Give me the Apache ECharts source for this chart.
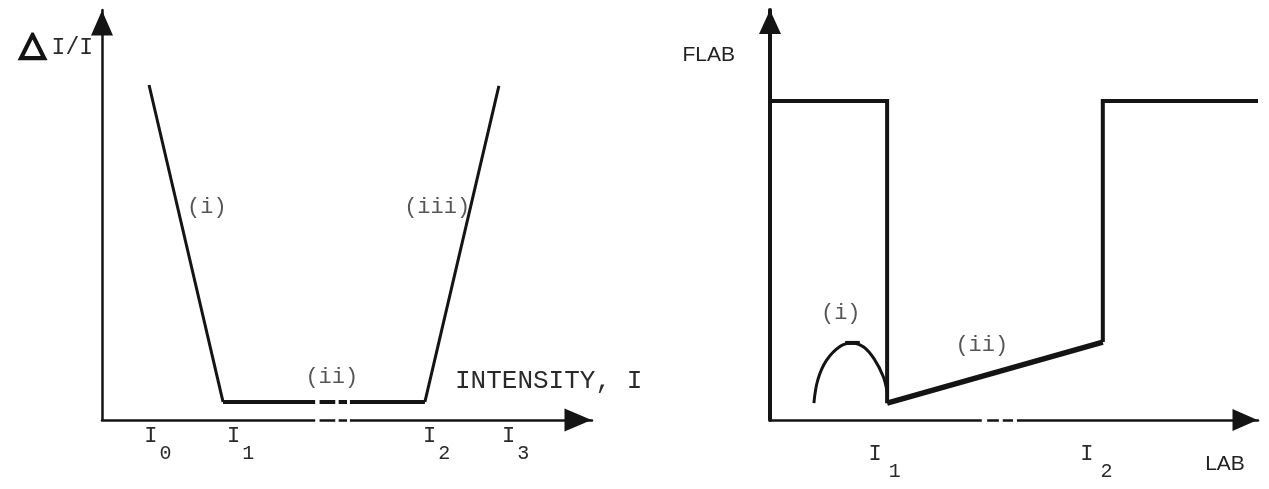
<!DOCTYPE html>
<html>
<head>
<meta charset="utf-8">
<style>
html, body { margin: 0; padding: 0; background: #fff; }
#chart { width: 1269px; height: 489px; }
</style>
<script src="https://cdn.jsdelivr.net/npm/echarts@6/dist/echarts.min.js"></script>
</head>
<body>
<div id="chart"></div>
<script>
// left panel: ΔI/I against intensity (both axes 0..100, arbitrary units)
const leftTicks = [11.4, 28.3, 68.3, 84.4];
const leftTickLabels = ['0', '1', '2', '3'];
const leftCurveI = [[9.6, 81.7], [24.7, 4.4]];
const leftCurveII = [[24.7, 4.4], [65.9, 4.4]];
const leftCurveIII = [[65.9, 4.4], [81.0, 81.5]];
const leftBreaks = [[43.5, 44.4], [47.6, 48.3], [50.0, 50.6]];
const leftNotes = [['(i)', 21.4, 52], ['(ii)', 46.9, 10.5], ['(iii)', 68.4, 52]];

// right panel: FLAB against LAB
const rightTicks = [23.5, 66.9];
const rightTickLabels = ['1', '2'];
const rightWave = [[0, 77.8], [24.0, 77.8], [24.0, 4.1]];
const rightSlope = [[24.0, 4.1], [68.2, 19.0]];
const rightStep = [[68.2, 19.0], [68.2, 77.8], [100, 77.8]];
const rightArc = [[9.0, 4.1], [9.8, 9.8], [11.6, 14.6], [14.4, 18.0], [16.8, 18.8], [19.2, 17.8], [21.4, 14.8], [23.2, 10.6], [24.0, 6.8]];
const rightArcCap = [[15.4, 18.8], [18.4, 18.8]];
const rightBreaks = [[43.4, 44.5], [46.9, 47.7], [49.8, 50.6]];
const rightNotes = [['(i)', 14.5, 26.1], ['(ii)', 43.4, 18.3]];

const ink = '#141414';
const textInk = '#2a2a2a';
const mono = '"Liberation Mono", "DejaVu Sans Mono", monospace';
const sans = '"Liberation Sans", Arial, sans-serif';

// "I" with a lowered index, like I₀
function tickRich(gapLeft) {
    return {
        m: { fontFamily: mono, fontSize: 22, lineHeight: 22, color: textInk, padding: [0, 0, 17, 0] },
        s: { fontFamily: mono, fontSize: 20, lineHeight: 22, color: textInk, padding: [17, 0, 0, gapLeft] }
    };
}

function lineSeries(data, axis, width, extra) {
    return Object.assign({
        type: 'line',
        xAxisIndex: axis,
        yAxisIndex: axis,
        data: data,
        symbol: 'none',
        silent: true,
        lineStyle: { color: ink, width: width, cap: 'butt', join: 'miter' }
    }, extra || {});
}

// white cut-outs for the broken axis / curve
function breakSeries(breaks, axis, levels) {
    const out = [];
    breaks.forEach(b => {
        levels.forEach(y => {
            out.push(lineSeries([[b[0], y], [b[1], y]], axis, 7, {
                clip: false,
                z: 5,
                lineStyle: { color: '#fff', width: 7, cap: 'butt' }
            }));
        });
    });
    return out;
}

function noteSeries(notes, axis) {
    return {
        type: 'scatter',
        xAxisIndex: axis,
        yAxisIndex: axis,
        symbolSize: 0,
        silent: true,
        z: 6,
        data: notes.map(n => ({ name: n[0], value: [n[1], n[2]] })),
        label: {
            show: true,
            position: 'inside',
            formatter: '{b}',
            fontFamily: mono,
            fontSize: 22,
            color: textInk
        }
    };
}

function baseAxis(width, arrow) {
    return {
        type: 'value',
        min: 0,
        max: 100,
        splitLine: { show: false },
        axisTick: { show: false },
        axisLine: {
            show: true,
            onZero: false,
            symbol: ['none', 'triangle'],
            symbolSize: arrow,
            symbolOffset: [0, -Math.round(arrow[1] / 2)],
            lineStyle: { color: ink, width: width }
        }
    };
}

const chart = echarts.init(document.getElementById('chart'));

const option = {
    animation: false,
    backgroundColor: '#fff',
    grid: [
        { left: 102, top: 10, width: 490, height: 410 },
        { left: 770, top: 10, width: 488, height: 410 }
    ],
    xAxis: [
        Object.assign(baseAxis(2.5, [23, 27]), {
            gridIndex: 0,
            name: 'INTENSITY, I',
            nameLocation: 'end',
            nameGap: -137,
            nameTextStyle: {
                fontFamily: mono, fontSize: 26, color: textInk,
                align: 'left', verticalAlign: 'bottom', padding: [0, 0, 26, 0]
            },
            axisLabel: {
                customValues: leftTicks,
                margin: 14,
                hideOverlap: false,
                formatter: v => '{m|I}{s|' + leftTickLabels[leftTicks.indexOf(v)] + '}',
                rich: tickRich(2)
            }
        }),
        Object.assign(baseAxis(2.5, [22, 25]), {
            gridIndex: 1,
            name: 'LAB',
            nameLocation: 'end',
            nameGap: -33,
            nameTextStyle: {
                fontFamily: sans, fontSize: 21, lineHeight: 21, color: '#222',
                align: 'center', verticalAlign: 'top', padding: [34, 0, 0, 0]
            },
            axisLabel: {
                customValues: rightTicks,
                margin: 32,
                hideOverlap: false,
                formatter: v => '{m|I}{s|' + rightTickLabels[rightTicks.indexOf(v)] + '}',
                rich: tickRich(7)
            }
        })
    ],
    yAxis: [
        Object.assign(baseAxis(2.5, [22, 25]), {
            gridIndex: 0,
            axisLabel: { show: false },
            name: '{d|△}{m|I/I}',
            nameLocation: 'end',
            nameGap: -38,
            nameTextStyle: {
                align: 'right', verticalAlign: 'middle', padding: [0, 9, 0, 0],
                rich: {
                    d: {
                        fontFamily: '"DejaVu Sans"', fontSize: 34, color: ink,
                        textBorderColor: ink, textBorderWidth: 2.5, padding: [0, 6, 4, 0]
                    },
                    m: { fontFamily: mono, fontSize: 23, color: textInk }
                }
            }
        }),
        Object.assign(baseAxis(4, [22, 24]), {
            gridIndex: 1,
            axisLabel: { show: false },
            name: 'FLAB',
            nameLocation: 'end',
            nameGap: -45,
            nameTextStyle: {
                fontFamily: sans, fontSize: 21, color: '#222',
                align: 'right', verticalAlign: 'middle', padding: [0, 35, 0, 0]
            }
        })
    ],
    series: [
        lineSeries(leftCurveI, 0, 3),
        lineSeries(leftCurveII, 0, 4),
        lineSeries(leftCurveIII, 0, 3),
        ...breakSeries(leftBreaks, 0, [0, 4.4]),
        noteSeries(leftNotes, 0),

        lineSeries(rightWave, 1, 4),
        lineSeries(rightSlope, 1, 5.5),
        lineSeries(rightStep, 1, 4, { clip: false }),
        lineSeries(rightArc, 1, 3, { smooth: 0.4 }),
        lineSeries(rightArcCap, 1, 4),
        ...breakSeries(rightBreaks, 1, [0]),
        noteSeries(rightNotes, 1)
    ]
};

chart.setOption(option);

window.addEventListener('resize', () => {
    chart.resize();
});
</script>
</body>
</html>
